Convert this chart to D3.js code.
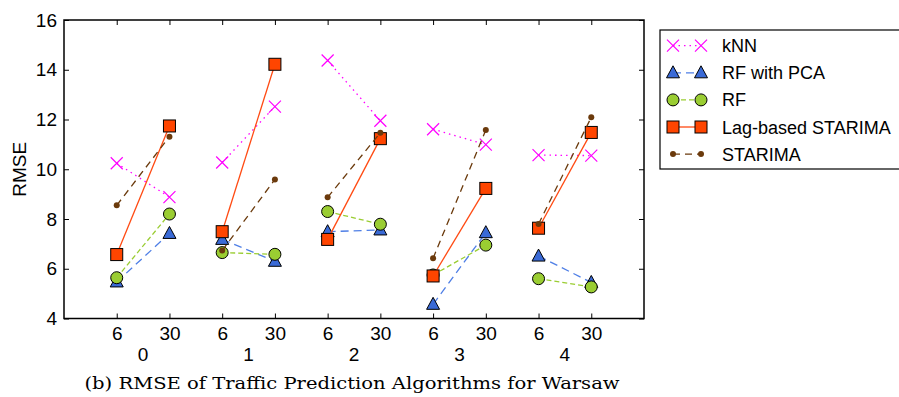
<!DOCTYPE html>
<html>
<head>
<meta charset="utf-8">
<script src="https://cdn.jsdelivr.net/npm/d3@7"></script>
<style>
  body { margin: 0; background: #fff; }
  text { font-family: "Liberation Sans", Arial, sans-serif; }
  text.caption { font-family: "DejaVu Serif", "Liberation Serif", serif; }
</style>
</head>
<body>
<svg width="899" height="397"></svg>
<script>
// Données
const groups = ["0", "1", "2", "3", "4"];
const horizons = ["6", "30"];
const yTicks = [4, 6, 8, 10, 12, 14, 16];

const knn     = [10.24, 8.88, 10.27, 12.52, 14.37, 11.95, 11.61, 10.99, 10.57, 10.55];
const rfPca   = [5.47, 7.42, 7.18, 6.30, 7.49, 7.56, 4.57, 7.45, 6.51, 5.45];
const rf      = [5.64, 8.20, 6.65, 6.58, 8.30, 7.79, 5.75, 6.95, 5.60, 5.27];
const lag     = [6.57, 11.74, 7.49, 14.22, 7.18, 11.23, 5.71, 9.23, 7.63, 11.48];
const starima = [8.55, 11.31, 6.73, 9.59, 8.87, 11.47, 6.42, 11.58, 7.80, 12.09];

const series = [
  { name: "kNN", values: knn, line: "#ff00ff", fill: "none", marker: "x", dash: "1.5,4" },
  { name: "RF with PCA", values: rfPca, line: "#4f7fe6", fill: "#3a6ad6", marker: "tri", dash: "8,5" },
  { name: "RF", values: rf, line: "#9acd32", fill: "#9acd32", marker: "circle", dash: "5,3" },
  { name: "Lag-based STARIMA", values: lag, line: "#ff4a12", fill: "#ff4500", marker: "square", dash: null },
  { name: "STARIMA", values: starima, line: "#6b3a0c", fill: "#6b3a0c", marker: "dot", dash: "7,5" }
];

const svg = d3.select("svg");
const margin = { top: 20, left: 64 };
const width = 580, height = 298.5;

const chart = svg.append("g")
    .attr("transform", `translate(${margin.left},${margin.top})`);

const x = d3.scaleLinear().domain([0, 11]).range([0, width]);
const y = d3.scaleLinear().domain([4, 16]).range([height, 0]);

const positions = d3.range(1, 11);

// Axes
chart.append("g")
    .attr("transform", `translate(0,${height})`)
    .call(d3.axisBottom(x).tickValues(positions)
        .tickFormat((d, i) => horizons[i % 2]).tickSizeInner(-5).tickSizeOuter(0).tickPadding(8))
    .call(g => g.select(".domain").remove())
    .selectAll("text").attr("font-size", 19).attr("fill", "#000");

chart.append("g")
    .call(d3.axisTop(x).tickValues(positions).tickFormat("").tickSizeInner(-5).tickSizeOuter(0))
    .call(g => g.select(".domain").remove());

chart.append("g")
    .call(d3.axisLeft(y).tickValues(yTicks).tickFormat(d3.format("d")).tickSizeInner(-5).tickSizeOuter(0).tickPadding(7))
    .call(g => g.select(".domain").remove())
    .selectAll("text").attr("font-size", 19).attr("fill", "#000");

chart.append("g")
    .attr("transform", `translate(${width},0)`)
    .call(d3.axisRight(y).tickValues(yTicks).tickFormat("").tickSizeInner(-5).tickSizeOuter(0))
    .call(g => g.select(".domain").remove());

chart.selectAll(".tick line").attr("stroke", "#000").attr("stroke-width", 1);

// Étiquettes de groupe
chart.selectAll(".group-label")
    .data(groups)
    .join("text")
    .attr("class", "group-label")
    .attr("x", (d, i) => (x(2 * i + 1) + x(2 * i + 2)) / 2)
    .attr("y", height + 42)
    .attr("text-anchor", "middle")
    .attr("font-size", 19)
    .text(d => d);

// Cadre
chart.append("rect")
    .attr("width", width).attr("height", height)
    .attr("fill", "none").attr("stroke", "#000").attr("stroke-width", 1.5);

svg.append("text")
    .attr("transform", `translate(26,${margin.top + height / 2}) rotate(-90)`)
    .attr("text-anchor", "middle")
    .attr("font-size", 19)
    .text("RMSE");

function drawMarker(g, s, cx, cy) {
  if (s.marker === "x") {
    g.append("path").attr("d", `M${cx-6},${cy-6}L${cx+6},${cy+6}M${cx-6},${cy+6}L${cx+6},${cy-6}`)
      .attr("stroke", s.line).attr("stroke-width", 1.2).attr("fill", "none");
  } else if (s.marker === "tri") {
    g.append("path").attr("d", `M${cx},${cy-7}L${cx+6.5},${cy+5}L${cx-6.5},${cy+5}Z`)
      .attr("fill", s.fill).attr("stroke", "#000").attr("stroke-width", 1);
  } else if (s.marker === "circle") {
    g.append("circle").attr("cx", cx).attr("cy", cy).attr("r", 6)
      .attr("fill", s.fill).attr("stroke", "#000").attr("stroke-width", 1);
  } else if (s.marker === "square") {
    g.append("rect").attr("x", cx - 6).attr("y", cy - 6).attr("width", 12).attr("height", 12)
      .attr("fill", s.fill).attr("stroke", "#000").attr("stroke-width", 1);
  } else {
    g.append("circle").attr("cx", cx).attr("cy", cy).attr("r", 3).attr("fill", s.fill);
  }
}

// Séries : une ligne par groupe (6 -> 30)
const line = d3.line().x(d => x(d[0])).y(d => y(d[1]));
series.forEach(s => {
  const g = chart.append("g");
  groups.forEach((grp, i) => {
    const pts = [[2 * i + 1, s.values[2 * i]], [2 * i + 2, s.values[2 * i + 1]]];
    g.append("path")
      .attr("d", line(pts))
      .attr("fill", "none")
      .attr("stroke", s.line)
      .attr("stroke-width", 1.3)
      .attr("stroke-dasharray", s.dash);
    pts.forEach(p => drawMarker(g, s, x(p[0]), y(p[1])));
  });
});

// Légende
const legend = svg.append("g");
legend.append("rect")
    .attr("x", 660).attr("y", 30).attr("width", 260).attr("height", 139)
    .attr("fill", "#fff").attr("stroke", "#000").attr("stroke-width", 1.2);

series.forEach((s, i) => {
  const ly = 45.7 + i * 27.1;
  const g = legend.append("g");
  g.append("line").attr("x1", 673).attr("x2", 701).attr("y1", ly).attr("y2", ly)
    .attr("stroke", s.line).attr("stroke-width", 1.3).attr("stroke-dasharray", s.dash);
  drawMarker(g, s, 673, ly);
  drawMarker(g, s, 701, ly);
  g.append("text").attr("x", 722).attr("y", ly + 6.5).attr("font-size", 18).text(s.name);
});

// Légende du graphique
svg.append("text")
    .attr("class", "caption")
    .attr("x", 352).attr("y", 389)
    .attr("text-anchor", "middle")
    .attr("font-size", 16)
    .attr("textLength", 535)
    .attr("lengthAdjust", "spacingAndGlyphs")
    .text("(b) RMSE of Traffic Prediction Algorithms for Warsaw");
</script>
</body>
</html>
